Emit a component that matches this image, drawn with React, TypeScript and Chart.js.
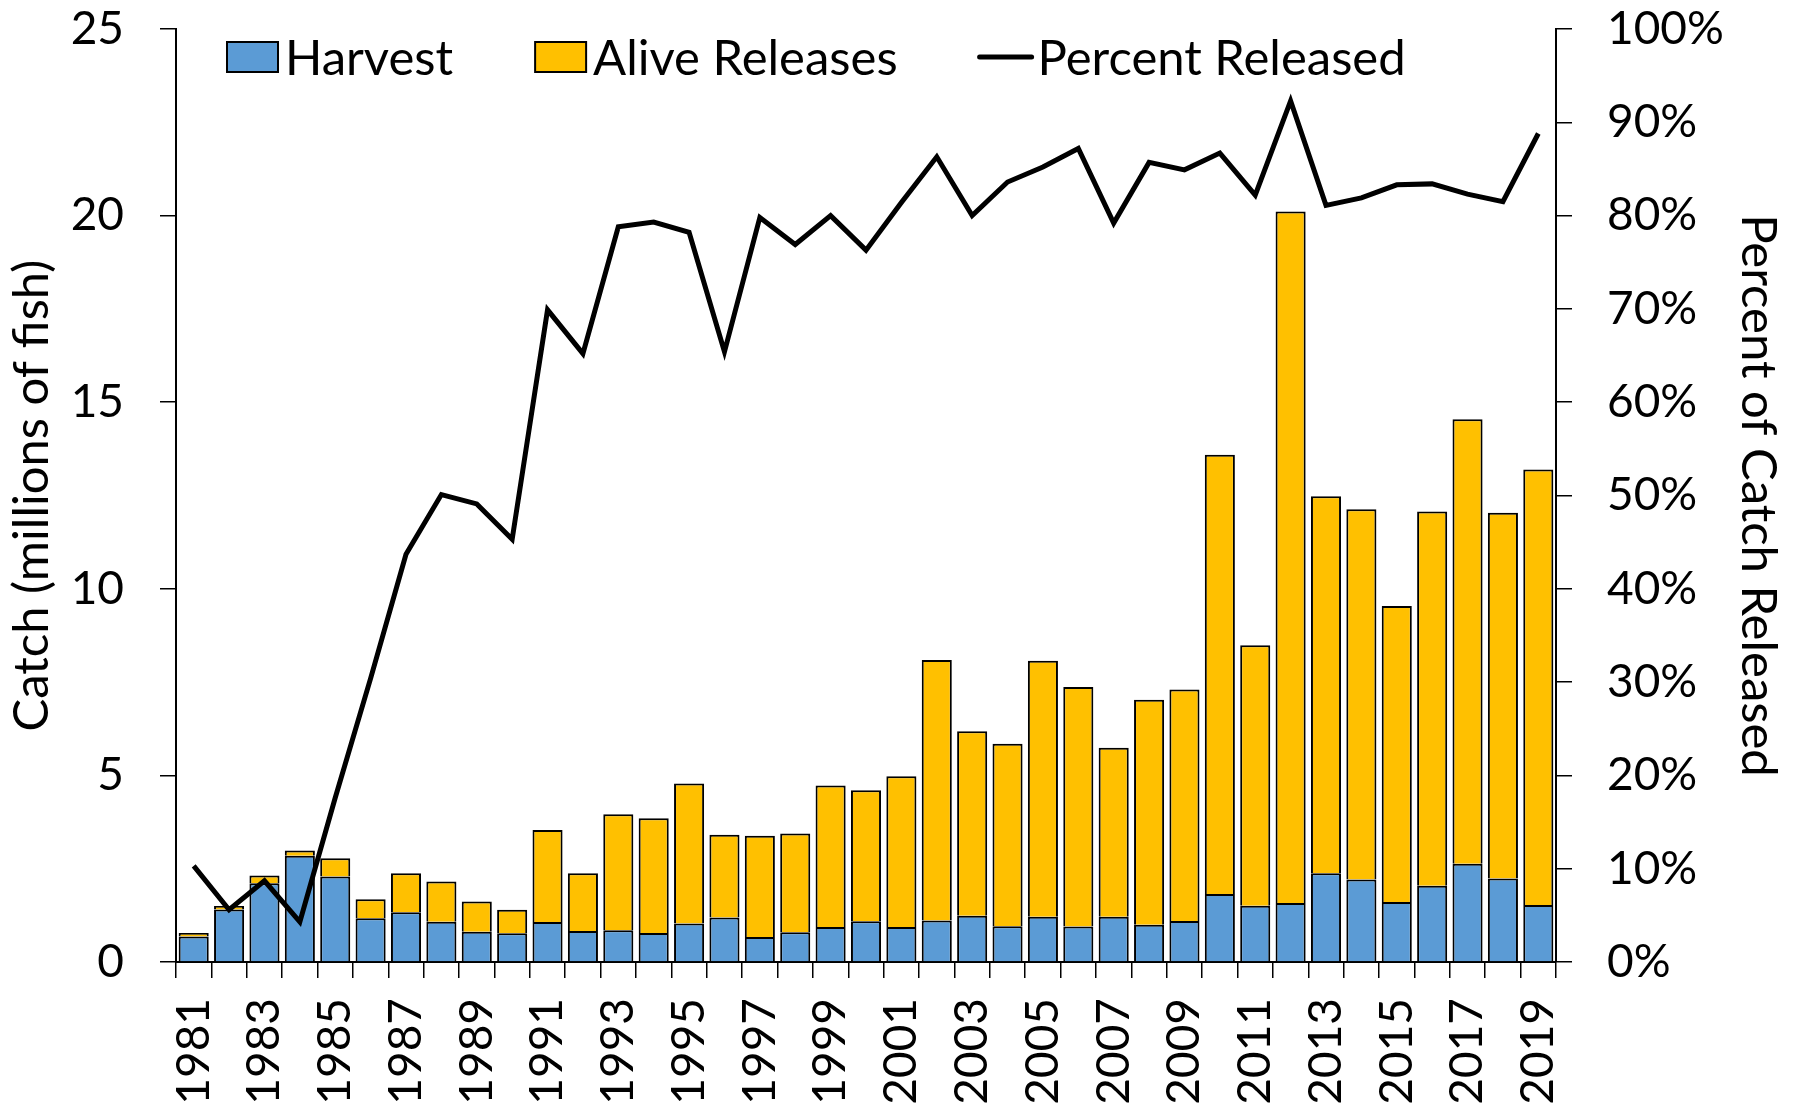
import React, { useEffect, useRef } from "react";
import { Chart, registerables } from "chart.js";

Chart.register(...registerables);

const years = [
  "1981", "1982", "1983", "1984", "1985", "1986", "1987", "1988", "1989", "1990",
  "1991", "1992", "1993", "1994", "1995", "1996", "1997", "1998", "1999", "2000",
  "2001", "2002", "2003", "2004", "2005", "2006", "2007", "2008", "2009", "2010",
  "2011", "2012", "2013", "2014", "2015", "2016", "2017", "2018", "2019",
];

const harvest = [
  0.68, 1.41, 2.11, 2.85, 2.29, 1.17, 1.33, 1.08, 0.81, 0.77,
  1.07, 0.83, 0.85, 0.78, 1.03, 1.19, 0.67, 0.8, 0.94, 1.09,
  0.94, 1.11, 1.24, 0.96, 1.21, 0.95, 1.21, 1.0, 1.1, 1.82,
  1.51, 1.58, 2.38, 2.21, 1.61, 2.04, 2.63, 2.24, 1.53,
];

const aliveReleases = [
  0.1, 0.09, 0.21, 0.14, 0.49, 0.51, 1.05, 1.08, 0.81, 0.63,
  2.47, 1.55, 3.11, 3.07, 3.75, 2.22, 2.71, 2.64, 3.79, 3.51,
  4.04, 6.98, 4.94, 4.89, 6.86, 6.42, 4.53, 6.03, 6.2, 11.77,
  6.98, 18.53, 10.1, 9.92, 7.93, 10.03, 11.91, 9.8, 11.67,
];

const percentReleased = [
  10.3, 5.6, 8.7, 4.3, 17.6, 30.4, 43.7, 50.1, 49.1, 45.3,
  69.9, 65.2, 78.8, 79.3, 78.2, 65.4, 79.8, 76.9, 80.0, 76.3,
  81.4, 86.3, 80.0, 83.6, 85.2, 87.2, 79.2, 85.7, 84.9, 86.7,
  82.2, 92.3, 81.1, 81.9, 83.3, 83.4, 82.3, 81.5, 88.8,
];

const leftAxisMax = 25;
const leftAxisStep = 5;
const rightAxisMax = 100;
const rightAxisStep = 10;

const FONT = "Lato";
const FS = 46;
const FS_TEXT = 49;

const legendPlugin = {
  id: "insideLegend",
  afterDraw(chart: any) {
    const ctx = chart.ctx as CanvasRenderingContext2D;
    ctx.save();
    ctx.font = `${FS_TEXT}px ${FONT}`;
    ctx.textBaseline = "middle";
    ctx.fillStyle = "#000";
    let x = 227;
    const y = 57;
    chart.data.datasets.forEach((ds: any) => {
      if (ds.type === "line") {
        ctx.strokeStyle = ds.borderColor;
        ctx.lineWidth = 5;
        ctx.lineCap = "round";
        ctx.beginPath();
        ctx.moveTo(x, y);
        ctx.lineTo(x + 52, y);
        ctx.stroke();
        x += 58;
      } else {
        ctx.fillStyle = ds.backgroundColor;
        ctx.fillRect(x, y - 15, 51, 30);
        ctx.strokeStyle = "#000";
        ctx.lineWidth = 2;
        ctx.strokeRect(x, y - 15, 51, 30);
        x += 58;
      }
      ctx.fillStyle = "#000";
      ctx.fillText(ds.label, x, y + 2);
      x += ctx.measureText(ds.label).width + 82;
    });
    ctx.restore();
  },
};

export default function App() {
  const ref = useRef<HTMLCanvasElement | null>(null);

  useEffect(() => {
    if (!ref.current) return;
    Chart.defaults.font.family = FONT;
    Chart.defaults.color = "#000";
    const chart = new Chart(ref.current, {
      data: {
        labels: years,
        datasets: [
          {
            type: "bar",
            label: "Harvest",
            data: harvest,
            backgroundColor: "#5B9BD5",
            borderColor: "#000",
            borderWidth: 2,
            yAxisID: "y",
            order: 1,
            barPercentage: 0.85,
            categoryPercentage: 1,
          },
          {
            type: "bar",
            label: "Alive Releases",
            data: aliveReleases,
            backgroundColor: "#FFC000",
            borderColor: "#000",
            borderWidth: 2,
            yAxisID: "y",
            order: 1,
            barPercentage: 0.85,
            categoryPercentage: 1,
          },
          {
            type: "line",
            label: "Percent Released",
            data: percentReleased,
            borderColor: "#000",
            borderWidth: 5,
            pointRadius: 0,
            tension: 0,
            yAxisID: "y1",
            order: 0,
          },
        ],
      } as any,
      options: {
        responsive: false,
        animation: false,
        devicePixelRatio: 1,
        layout: { padding: { top: 29, left: 0, right: 0, bottom: 0 } },
        plugins: {
          legend: { display: false },
          tooltip: { enabled: false },
        },
        scales: {
          x: {
            stacked: true,
            offset: true,
            grid: {
              display: true,
              drawOnChartArea: false,
              drawTicks: true,
              tickLength: 16,
              color: "#000",
              lineWidth: 1.5,
              offset: true,
            },
            border: { display: true, color: "#000", width: 2 },
            ticks: {
              autoSkip: false,
              minRotation: 90,
              maxRotation: 90,
              padding: 20,
              color: "#000",
              font: { family: FONT, size: FS },
              callback: (_v: any, i: number) => (i % 2 === 0 ? years[i] : ""),
            },
            afterFit: (s: any) => {
              s.height = 143;
              s.paddingLeft = 0;
              s.paddingRight = 0;
            },
          },
          y: {
            type: "linear",
            position: "left",
            stacked: true,
            min: 0,
            max: leftAxisMax,
            grid: {
              drawOnChartArea: false,
              drawTicks: true,
              tickLength: 16,
              color: "#000",
              lineWidth: 1.5,
            },
            border: { display: true, color: "#000", width: 2 },
            ticks: {
              stepSize: leftAxisStep,
              padding: 36,
              color: "#000",
              font: { family: FONT, size: FS },
            },
            title: {
              display: true,
              text: "Catch (millions of fish)",
              color: "#000",
              font: { family: FONT, size: FS_TEXT },
              padding: { top: 3, bottom: 0 },
            },
            afterFit: (s: any) => {
              s.width = 176;
              s.paddingTop = 0;
              s.paddingBottom = 0;
            },
          },
          y1: {
            type: "linear",
            position: "right",
            min: 0,
            max: rightAxisMax,
            grid: {
              drawOnChartArea: false,
              drawTicks: true,
              tickLength: 16,
              color: "#000",
              lineWidth: 1.5,
            },
            border: { display: true, color: "#000", width: 2 },
            ticks: {
              stepSize: rightAxisStep,
              padding: 35,
              color: "#000",
              font: { family: FONT, size: FS },
              callback: (v: any) => `${v}%`,
            },
            title: {
              display: true,
              text: "Percent of Catch Released",
              color: "#000",
              font: { family: FONT, size: FS_TEXT },
              padding: { top: 10, bottom: 0 },
            },
            afterFit: (s: any) => {
              s.width = 241;
              s.paddingTop = 0;
              s.paddingBottom = 0;
            },
          },
        },
      } as any,
      plugins: [legendPlugin],
    });
    return () => chart.destroy();
  }, []);

  return (
    <div style={{ position: "absolute", left: 0, top: 0, width: 1797, height: 1105, background: "#fff" }}>
      <canvas ref={ref} width={1797} height={1105} style={{ display: "block" }} />
    </div>
  );
}
